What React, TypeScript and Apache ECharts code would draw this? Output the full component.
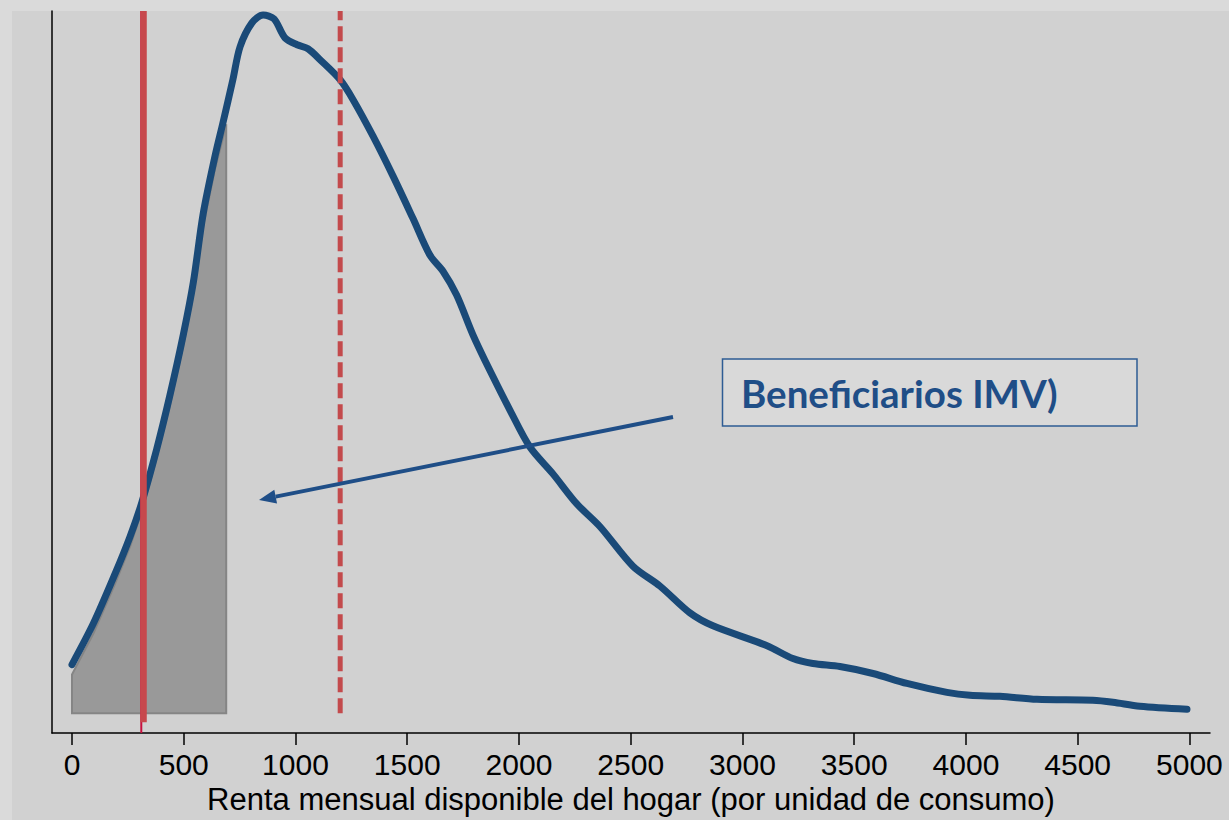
import React, { useEffect, useRef } from "react";
import * as echarts from "echarts";

// Household disposable monthly income (per consumption unit) – kernel density
const curveX = [0, 95, 192, 260, 312, 379, 438, 498, 543, 587, 640, 676, 720, 752, 805, 855, 904, 953, 1007, 1056, 1110, 1199, 1257, 1347, 1436, 1526, 1602, 1660, 1721, 1794, 1870, 1960, 2049, 2152, 2258, 2362, 2510, 2631, 2765, 2868, 3110, 3226, 3315, 3436, 3584, 3736, 3915, 4018, 4152, 4318, 4568, 4658, 4778, 4989];
const curveY = [0.49, 0.9, 1.4, 1.78, 2.12, 2.66, 3.2, 3.81, 4.34, 5.03, 5.61, 5.95, 6.38, 6.71, 6.95, 7.03, 6.99, 6.8, 6.73, 6.69, 6.58, 6.38, 6.18, 5.81, 5.41, 4.98, 4.61, 4.45, 4.21, 3.81, 3.45, 3.05, 2.68, 2.41, 2.11, 1.88, 1.48, 1.28, 1.01, 0.88, 0.68, 0.55, 0.5, 0.47, 0.4, 0.3, 0.21, 0.18, 0.17, 0.14, 0.13, 0.11, 0.07, 0.04];

// Beneficiaries IMV (shaded area)
const benefX = [0, 0, 95, 192, 260, 312, 379, 438, 498, 543, 587, 640, 676, 690, 690];
const benefY = [0, 0.39, 0.8, 1.3, 1.68, 2.03, 2.57, 3.1, 3.7, 4.22, 4.9, 5.48, 5.8, 5.93, 0];

const xTicks = [0, 500, 1000, 1500, 2000, 2500, 3000, 3500, 4000, 4500, 5000];
const povertyLine = 320;
const povertyLineThin = 310;
const dashedLine = 1200;
const xName = "Renta mensual disponible del hogar (por unidad de consumo)";
const boxLabel = "Beneficiarios IMV)";

const Y_MIN = -0.2;
const Y_MAX = 7.07;

export default function App() {
  const ref = useRef<HTMLDivElement>(null);

  useEffect(() => {
    document.body.style.margin = "0";
    if (!ref.current) return;
    const chart = echarts.init(ref.current, null, { renderer: "svg" });

    const benefPts = benefX.map((x, i) => [x, benefY[i]]);
    const curve = curveX.map((x, i) => [x, curveY[i]]);

    // arrow geometry
    const tip = [259, 500];
    const start = [673, 417];
    const dx = start[0] - tip[0];
    const dy = start[1] - tip[1];
    const len = Math.sqrt(dx * dx + dy * dy);
    const ux = dx / len;
    const uy = dy / len;
    const px = -uy;
    const py = ux;
    const headL = 17;
    const headW = 7;
    const bc = [tip[0] + ux * headL, tip[1] + uy * headL];

    chart.setOption({
      animation: false,
      backgroundColor: "#dadada",
      grid: { left: 52, right: 19, top: 11, bottom: 82, containLabel: false },
      xAxis: {
        type: "value",
        min: -89.5,
        max: 5092,
        axisLine: { show: true, onZero: false, lineStyle: { color: "#000", width: 1.5 } },
        axisTick: { show: true, customValues: xTicks, length: 12, lineStyle: { color: "#000", width: 1.5 } },
        axisLabel: {
          customValues: xTicks,
          formatter: (v: number) => String(v),
          margin: 16,
          fontSize: 30,
          color: "#000",
          fontFamily: "Liberation Sans, Arial, sans-serif",
        },
        splitLine: { show: false },
        name: xName,
        nameLocation: "middle",
        nameGap: 50,
        nameTextStyle: { fontSize: 31, color: "#000", fontFamily: "Liberation Sans, Arial, sans-serif" },
      },
      yAxis: {
        type: "value",
        min: Y_MIN,
        max: Y_MAX,
        axisLine: { show: true, onZero: false, lineStyle: { color: "#000", width: 1.5 } },
        axisTick: { show: false },
        axisLabel: { show: false },
        splitLine: { show: false },
      },
      graphic: [
        {
          type: "rect",
          z: -10,
          silent: true,
          shape: { x: 12, y: 11, width: 1229 - 12, height: 820 - 11 },
          style: { fill: "#d1d1d1" },
        },
        {
          type: "line",
          z: 100,
          shape: { x1: start[0], y1: start[1], x2: bc[0], y2: bc[1] },
          style: { stroke: "#1f4e87", lineWidth: 4 },
        },
        {
          type: "polygon",
          z: 100,
          shape: {
            points: [
              tip,
              [bc[0] + px * headW, bc[1] + py * headW],
              [bc[0] - px * headW, bc[1] - py * headW],
            ],
          },
          style: { fill: "#1f4e87" },
        },
        {
          type: "rect",
          z: 100,
          shape: { x: 722.5, y: 359, width: 414.5, height: 67 },
          style: { fill: "#d9d9d9", stroke: "#2e5c94", lineWidth: 1.5 },
        },
        {
          type: "text",
          z: 101,
          x: 741,
          y: 393,
          style: {
            text: boxLabel,
            fill: "#1f4e87",
            font: "bold 38.5px Lato, 'Open Sans', sans-serif",
            verticalAlign: "middle",
            align: "left",
          },
        },
      ],
      series: [
        {
          type: "custom",
          z: 1,
          data: [[0, 0]],
          renderItem: (params: any, api: any) => {
            const pts = benefPts.map((p) => api.coord(p));
            return {
              type: "polygon",
              shape: { points: pts },
              style: { fill: "#999999", stroke: "#858585", lineWidth: 2 },
            };
          },
        },
        {
          type: "line",
          z: 3,
          data: curve,
          symbol: "none",
          smooth: 0.3,
          lineStyle: { color: "#1a4a78", width: 7, cap: "round", join: "round" },
        },
        {
          type: "line",
          z: 4,
          data: [
            [povertyLineThin, Y_MIN],
            [povertyLineThin, Y_MAX],
          ],
          symbol: "none",
          lineStyle: { color: "#c8103e", width: 2 },
        },
        {
          type: "line",
          z: 5,
          data: [
            [povertyLine, -0.09],
            [povertyLine, Y_MAX],
          ],
          symbol: "none",
          lineStyle: { color: "#c7484d", width: 6.5 },
        },
        {
          type: "line",
          z: 5,
          data: [
            [dashedLine, 0],
            [dashedLine, Y_MAX],
          ],
          symbol: "none",
          lineStyle: { color: "#c34a4c", width: 5, type: [15, 6] },
        },
      ],
    });

    return () => chart.dispose();
  }, []);

  return <div ref={ref} style={{ width: 1229, height: 820 }} />;
}
